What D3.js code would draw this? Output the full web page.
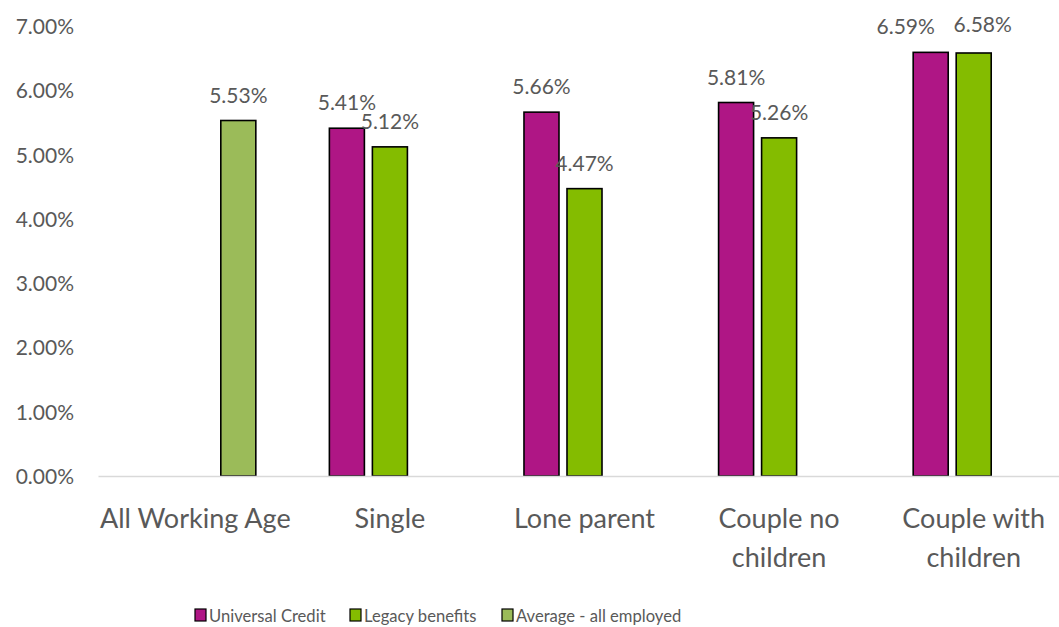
<!DOCTYPE html>
<html><head><meta charset="utf-8">
<script src="https://cdn.jsdelivr.net/npm/d3@7"></script>
<style>body{margin:0;background:#fff}svg{display:block}text{font-family:Lato,"Open Sans",sans-serif;fill:#595959}</style>
</head><body><svg id="c" width="1059" height="627"></svg>
<script>
const categories = [["All Working Age"],["Single"],["Lone parent"],["Couple no","children"],["Couple with","children"]];
const seriesNames = ["Universal Credit","Legacy benefits","Average - all employed"];
const universalCredit = [null,5.41,5.66,5.81,6.59];
const legacyBenefits = [null,5.12,4.47,5.26,6.58];
const averageAllEmployed = [5.53,null,null,null,null];
const yTicks = [0,1,2,3,4,5,6,7];
const colors = ["#AF1685","#84BC00","#9BBB59"];

const svg = d3.select("#c");
const cats = categories.map(c=>c.join(" "));
const seriesVals = [universalCredit, legacyBenefits, averageAllEmployed];
const x0 = d3.scaleBand().domain(cats).range([98,1071]).paddingInner(0.378).paddingOuter(0.189);
const x1 = d3.scaleBand().domain(seriesNames).range([0,x0.bandwidth()]).paddingInner(0.186);
const y = d3.scaleLinear().domain([0,7]).range([476,26]);

// label nudges to avoid overlap (as in the original)
const nudge = {"0-4":[-25,0],"1-4":[9,-3]};

// y axis labels
const ya = svg.append("g").attr("transform","translate(74,0)")
  .call(d3.axisLeft(y).tickValues(yTicks).tickSize(0).tickPadding(0).tickFormat(d=>d.toFixed(2)+"%"));
ya.select(".domain").remove();
ya.selectAll("text").style("font-size","21px").attr("fill","#595959").attr("dy","0.36em");

// bars
seriesNames.forEach((s,si)=>{
  const g = svg.append("g");
  const data = cats.map((c,i)=>({c,v:seriesVals[si][i]})).filter(d=>d.v!=null);
  g.selectAll("rect").data(data).join("rect")
    .attr("x",d=>x0(d.c)+x1(s)).attr("y",d=>y(d.v))
    .attr("width",x1.bandwidth()).attr("height",d=>y(0)-y(d.v))
    .attr("fill",colors[si]).attr("stroke","#000").attr("stroke-width",1.6);
});

// x axis line
const xa = svg.append("g").attr("transform","translate(0,476)")
  .call(d3.axisBottom(x0).tickSize(0).tickFormat(""));
xa.select(".domain").attr("stroke","#d9d9d9").attr("stroke-width",1.3);

// data labels
seriesNames.forEach((s,si)=>{
  const data = cats.map((c,i)=>({c,i,v:seriesVals[si][i]})).filter(d=>d.v!=null);
  svg.append("g").selectAll("text").data(data).join("text")
    .attr("x",d=>x0(d.c)+x1(s)+x1.bandwidth()/2+((nudge[si+"-"+d.i]||[0,0])[0]))
    .attr("y",d=>y(d.v)-18+((nudge[si+"-"+d.i]||[0,0])[1]))
    .attr("text-anchor","middle").style("font-size","21px").text(d=>d.v.toFixed(2)+"%");
});

// category labels
categories.forEach((lines,i)=>{
  const cx = x0(cats[i])+x0.bandwidth()/2;
  const t = svg.append("text").attr("x",cx).attr("y",528).attr("text-anchor","middle").style("font-size","27px");
  lines.forEach((l,j)=>t.append("tspan").attr("x",cx).attr("dy",j?39:0).text(l));
});

// legend
const legX = [195,350,502];
seriesNames.forEach((s,i)=>{
  svg.append("rect").attr("x",legX[i]).attr("y",609).attr("width",11).attr("height",12)
    .attr("fill",colors[i]).attr("stroke","#000").attr("stroke-width",1.2);
  svg.append("text").attr("x",legX[i]+14).attr("y",622).style("font-size","16.6px").text(s);
});
</script></body></html>
